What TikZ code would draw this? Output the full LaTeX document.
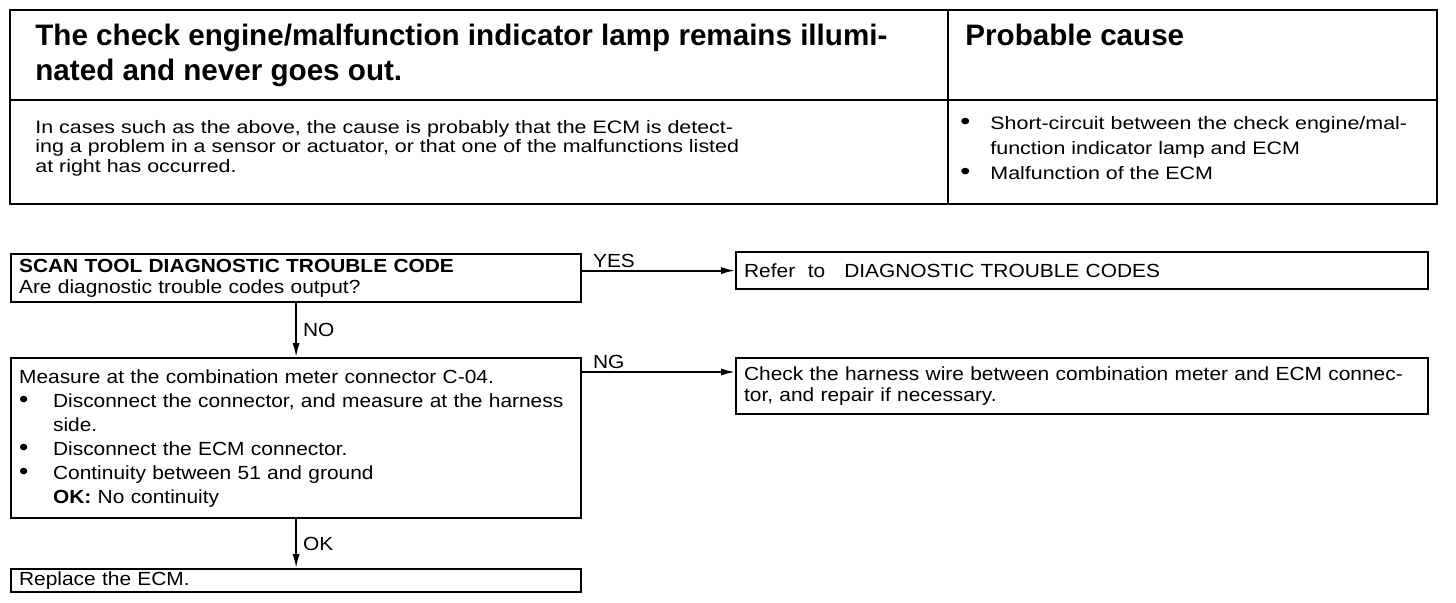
\documentclass[tikz,border=0pt]{standalone}
\usepackage{fontspec}
\setmainfont{Liberation Sans}
\newfontfamily\tablefont[FakeStretch=1.19]{Liberation Sans}
\newfontfamily\flowfont[FakeStretch=1.1]{Liberation Sans}
\usetikzlibrary{arrows.meta}

\newcommand{\dotmark}{{\fontsize{12}{10}\selectfont\textbullet}}
\newcommand{\bul}{\makebox[17pt][l]{\dotmark}}
\newcommand{\bulr}{\makebox[15pt][l]{\dotmark}}

\begin{document}
\begin{tikzpicture}[x=0.5pt, y=-0.5pt,
    stepbox/.style={draw, line width=1.1pt, rectangle, anchor=north west, align=left,
      inner xsep=4pt, inner ysep=0pt, font=\flowfont\fontsize{9.5}{10.3}\selectfont},
    flow/.style={line width=0.9pt, -{Latex[length=7pt,width=3.6pt]}},
    lbl/.style={font=\flowfont\fontsize{9.5}{10}\selectfont, inner sep=1pt}]
    \useasboundingbox (0,0) rectangle (1456,602);

    % Header table
    \draw[line width=1.1pt] (10,10) rectangle (1437,204);
    \draw[line width=1.1pt] (10,100) -- (1437,100);
    \draw[line width=1.1pt] (948,10) -- (948,204);
    \node[anchor=north west, align=left, inner sep=0pt,
      font=\fontsize{14.8}{17.5}\selectfont\bfseries] (title) at (35,24)
      {The check engine/malfunction indicator lamp remains illumi-\\nated and never goes out.};
    \node[anchor=north west, inner sep=0pt,
      font=\fontsize{14.8}{17.5}\selectfont\bfseries] (cause) at (965,24) {Probable cause};
    \node[anchor=north west, align=left, inner sep=0pt,
      font=\tablefont\fontsize{9}{9.7}\selectfont] (remark) at (35,120)
      {In cases such as the above, the cause is probably that the ECM is detect-\\
       ing a problem in a sensor or actuator, or that one of the malfunctions listed\\
       at right has occurred.};
    \node[anchor=north west, align=left, inner sep=0pt,
      font=\tablefont\fontsize{9}{12.5}\selectfont] (causes) at (960,116)
      {\bulr Short-circuit between the check engine/mal-\\
       \hspace*{15pt}function indicator lamp and ECM\\
       \bulr Malfunction of the ECM};

    % Flow chart
    \node[stepbox, text width=277pt, minimum height=24pt] (scan) at (10,253)
      {\textbf{SCAN TOOL DIAGNOSTIC TROUBLE CODE}\\Are diagnostic trouble codes output?};
    \node[stepbox, text width=338pt, minimum height=18.5pt] (refer) at (735,251)
      {Refer\ \ to\ \ \ DIAGNOSTIC TROUBLE CODES};
    \node[stepbox, text width=277pt, minimum height=80pt,
      font=\flowfont\fontsize{9.5}{12}\selectfont] (measure) at (10,357)
      {Measure at the combination meter connector C-04.\\
       \bul Disconnect the connector, and measure at the harness\\
       \hspace*{17pt}side.\\
       \bul Disconnect the ECM connector.\\
       \bul Continuity between 51 and ground\\
       \hspace*{17pt}\textbf{OK:} No continuity};
    \node[stepbox, text width=338pt, minimum height=28pt] (check) at (735,357)
      {Check the harness wire between combination meter and ECM connec-\\
       tor, and repair if necessary.};
    \node[stepbox, text width=277pt, minimum height=11.5pt] (replace) at (10,568)
      {Replace the ECM.};

    \path (check.north west) ++(0,15) coordinate (ngend);

    \draw[flow] (scan.east |- refer.west) -- (refer.west)
      node[lbl, pos=0, anchor=south west, xshift=4pt] {YES};
    \draw[flow] (measure.east |- ngend) -- (ngend)
      node[lbl, pos=0, anchor=south west, xshift=4pt] {NG};
    \draw[flow] (scan.south) -- (measure.north)
      node[lbl, midway, right, xshift=2pt] {NO};
    \draw[flow] (measure.south) -- (replace.north)
      node[lbl, midway, right, xshift=2pt] {OK};
\end{tikzpicture}
\end{document}
